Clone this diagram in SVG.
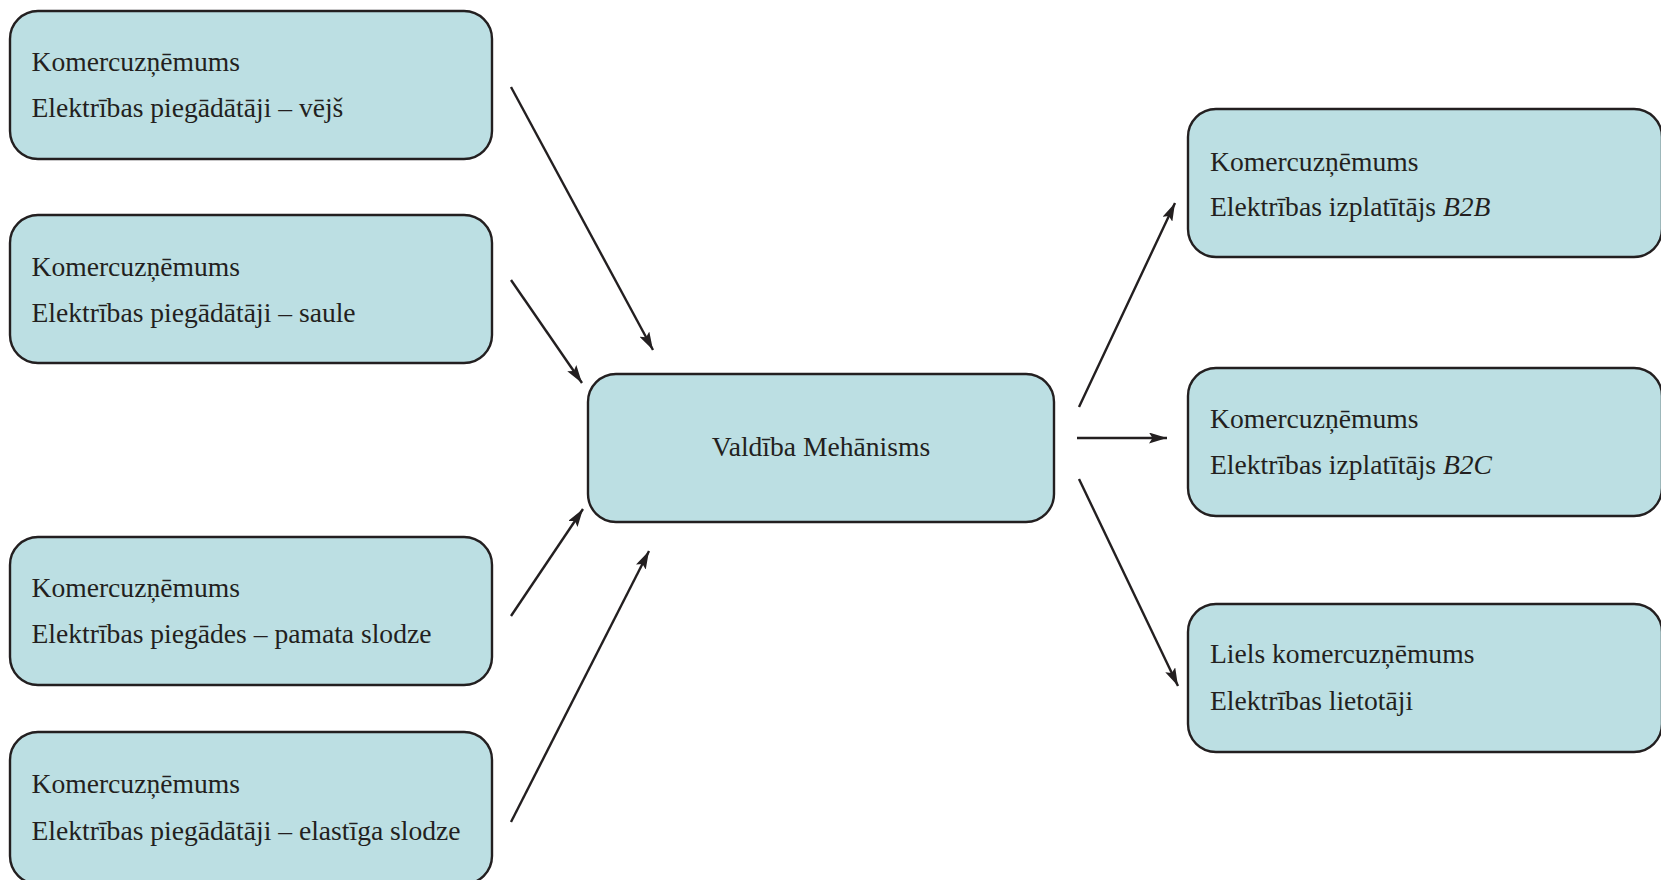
<svg xmlns="http://www.w3.org/2000/svg" width="1661" height="880" viewBox="0 0 1661 880">
<defs>
<style>
.box{fill:#bcdfe3;stroke:#231f20;stroke-width:2.4}
.t{font-family:"Liberation Serif","Times New Roman",serif;font-size:27.6px;fill:#231f20}
.conn line{stroke:#231f20;stroke-width:2.4;fill:none}
</style>
<marker id="ah" viewBox="0 0 18 11" refX="18" refY="5.5" markerWidth="18" markerHeight="11" markerUnits="userSpaceOnUse" orient="auto">
<path d="M0,0 L18,5.5 L0,11 L3.5,5.5 z" fill="#231f20"/>
</marker>
</defs>
<rect width="1661" height="880" fill="#ffffff"/>
<g id="n1"><rect class="box" x="10" y="11" width="482" height="148" rx="28"/><text class="t" x="31.5" y="71">Komercuzņēmums</text><text class="t" x="31.5" y="117">Elektrības piegādātāji – vējš</text></g>
<g id="n2"><rect class="box" x="10" y="215" width="482" height="148" rx="28"/><text class="t" x="31.5" y="276">Komercuzņēmums</text><text class="t" x="31.5" y="322">Elektrības piegādātāji – saule</text></g>
<g id="n3"><rect class="box" x="10" y="537" width="482" height="148" rx="28"/><text class="t" x="31.5" y="597">Komercuzņēmums</text><text class="t" x="31.5" y="643">Elektrības piegādes – pamata slodze</text></g>
<g id="n4"><rect class="box" x="10" y="732" width="482" height="152" rx="28"/><text class="t" x="31.5" y="793">Komercuzņēmums</text><text class="t" x="31.5" y="840">Elektrības piegādātāji – elastīga slodze</text></g>
<g id="center"><rect class="box" x="588" y="374" width="466" height="148" rx="28"/><text class="t" x="821" y="456" text-anchor="middle">Valdība Mehānisms</text></g>
<g id="r1"><rect class="box" x="1188" y="109" width="474" height="148" rx="28"/><text class="t" x="1210" y="171">Komercuzņēmums</text><text class="t" x="1210" y="216">Elektrības izplatītājs <tspan font-style="italic">B2B</tspan></text></g>
<g id="r2"><rect class="box" x="1188" y="368" width="474" height="148" rx="28"/><text class="t" x="1210" y="428">Komercuzņēmums</text><text class="t" x="1210" y="474">Elektrības izplatītājs <tspan font-style="italic">B2C</tspan></text></g>
<g id="r3"><rect class="box" x="1188" y="604" width="474" height="148" rx="28"/><text class="t" x="1210" y="663">Liels komercuzņēmums</text><text class="t" x="1210" y="710">Elektrības lietotāji</text></g>
<g id="connectors" class="conn">
<line x1="511" y1="87" x2="653" y2="350" marker-end="url(#ah)"/>
<line x1="511" y1="280" x2="582" y2="383" marker-end="url(#ah)"/>
<line x1="511" y1="616" x2="583" y2="509" marker-end="url(#ah)"/>
<line x1="511" y1="822" x2="649" y2="551" marker-end="url(#ah)"/>
<line x1="1079" y1="407" x2="1175" y2="203" marker-end="url(#ah)"/>
<line x1="1077" y1="438" x2="1167" y2="438" marker-end="url(#ah)"/>
<line x1="1079" y1="479" x2="1178" y2="686" marker-end="url(#ah)"/>
</g>
</svg>
